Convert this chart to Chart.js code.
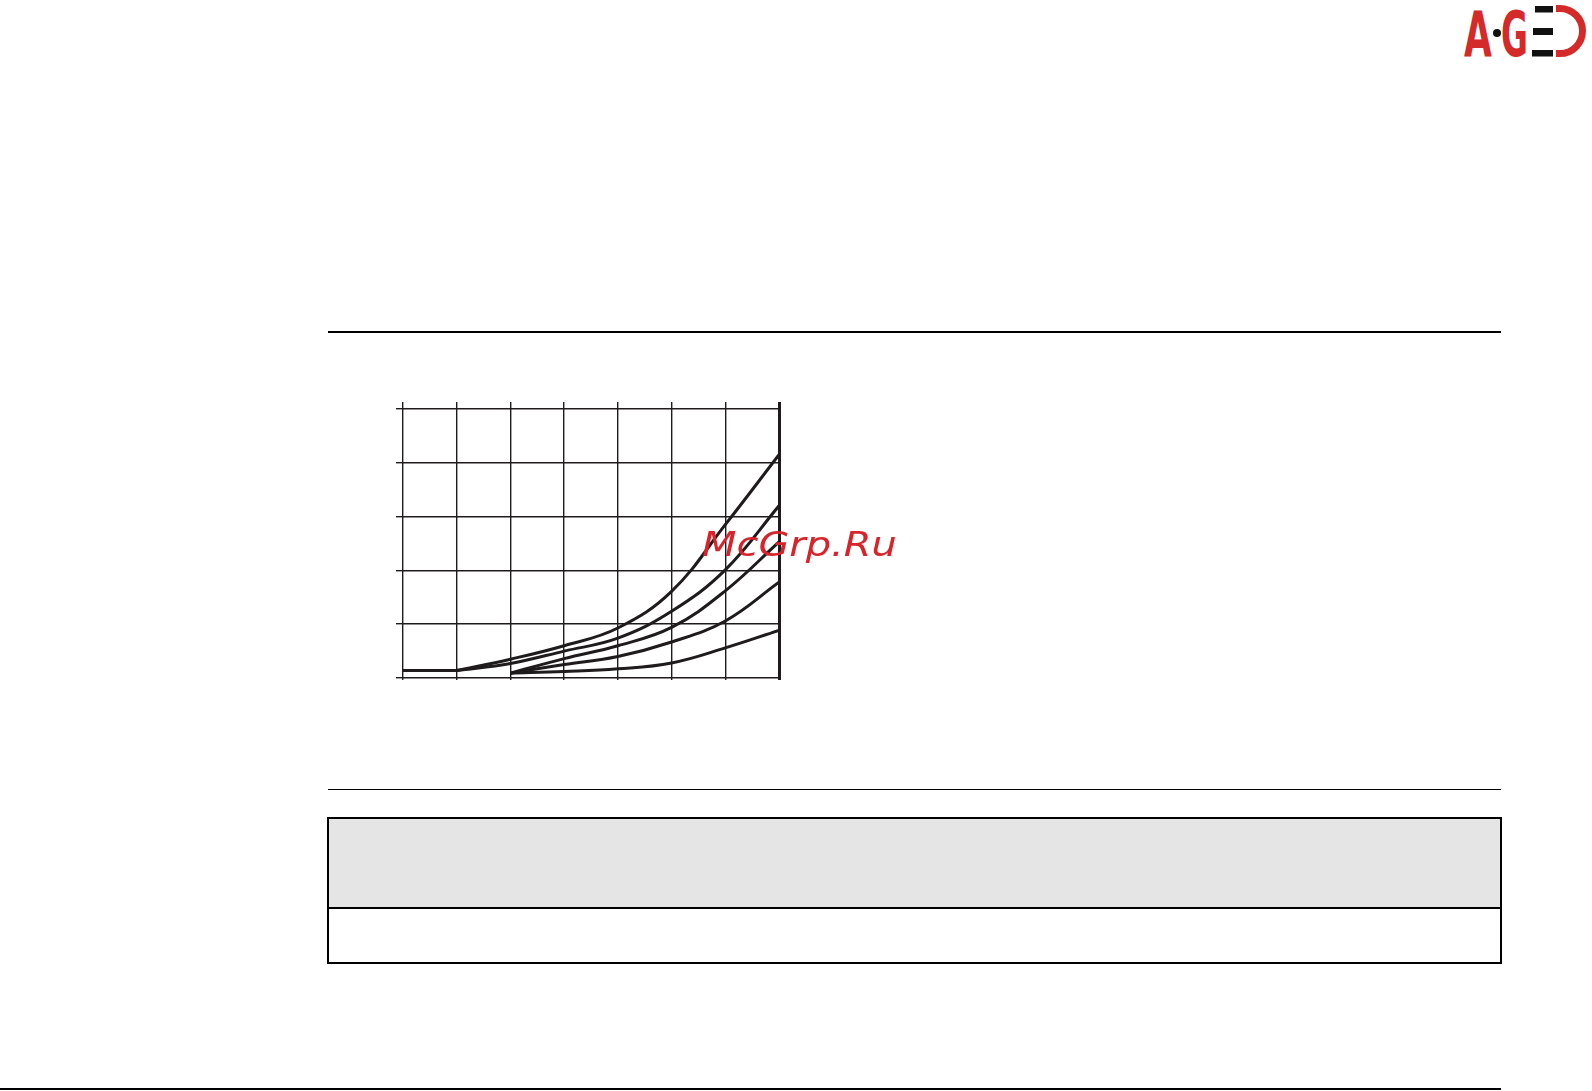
<!DOCTYPE html>
<html>
<head>
<meta charset="utf-8">
<script src="https://cdn.jsdelivr.net/npm/chart.js@4/dist/chart.umd.min.js"></script>
<style>
html,body{margin:0;padding:0;background:#fff;}
body{width:1592px;height:1091px;overflow:hidden;position:relative;font-family:"DejaVu Sans",sans-serif;}
.rule{position:absolute;background:#000;}
#chartBox{position:absolute;left:380px;top:390px;width:420px;height:300px;}
#wm{position:absolute;left:702px;top:528px;font-family:"DejaVu Sans",sans-serif;font-style:oblique;font-size:33px;line-height:33px;color:#d9232a;z-index:5;white-space:nowrap;transform:scaleX(1.21);transform-origin:left top;}
.logoTxt{position:absolute;top:4px;font-family:"DejaVu Sans",sans-serif;font-weight:bold;font-size:62px;line-height:62px;color:#d42a2a;white-space:nowrap;transform-origin:left top;}
#logoSvg{position:absolute;left:1490px;top:0;width:100px;height:62px;}
#grayBox{position:absolute;left:327px;top:817px;width:1171px;height:90px;background:#e5e5e5;border:2.5px solid #000;border-bottom:none;}
#whiteBox{position:absolute;left:327px;top:907px;width:1171px;height:53px;background:#fff;border:2.5px solid #000;}
</style>
</head>
<body>
<div class="logoTxt" style="left:1464px;transform:scaleX(0.58);">A</div>
<div class="logoTxt" style="left:1501px;transform:scaleX(0.53);">G</div>
<svg id="logoSvg" viewBox="0 0 100 62" xmlns="http://www.w3.org/2000/svg">
  <circle cx="7" cy="33" r="4" fill="#111"/>
  <rect x="45" y="6" width="18" height="6.5" fill="#111"/>
  <rect x="43" y="28" width="20" height="7" fill="#111"/>
  <rect x="42" y="50" width="21" height="6.5" fill="#111"/>
  <path d="M66 8.5 H70 A22.5 22.5 0 0 1 70 53.5 H66" fill="none" stroke="#d42a2a" stroke-width="7"/>
</svg>

<div class="rule" style="left:328px;top:331px;width:1173px;height:2px;"></div>
<div class="rule" style="left:328px;top:789px;width:1173px;height:1.3px;"></div>
<div class="rule" style="left:0px;top:1088px;width:1501px;height:2px;"></div>

<div id="grayBox"></div>
<div id="whiteBox"></div>

<div id="chartBox"><canvas id="c" width="420" height="300"></canvas></div>
<div id="wm">McGrp.Ru</div>

<script>
// ---- data ----
const xValues = [0, 1, 2, 3, 4, 5, 6, 7];
const leadIn  = [0.14, 0.14, null, null, null, null, null, null];
const curveA = [null, 0.14, 0.35, 0.60, 0.93, 1.61, 2.85, 4.15];
const curveB = [null, 0.14, 0.27, 0.50, 0.74, 1.24, 2.01, 3.20];
const curveC = [null, null, 0.09, 0.36, 0.60, 0.94, 1.62, 2.53];
const curveD = [null, null, 0.09, 0.25, 0.40, 0.67, 1.06, 1.78];
const curveE = [null, null, 0.09, 0.12, 0.17, 0.28, 0.56, 0.885];
const xTicks = [0, 1, 2, 3, 4, 5, 6, 7];
const yTicks = [0, 1, 2, 3, 4, 5];

const ink = '#1f1b1c';
function toPoints(arr) {
  return xValues.map((x, i) => ({x: x, y: arr[i]})).filter(p => p.y !== null);
}
const curves = [leadIn, curveA, curveB, curveC, curveD, curveE];
const datasets = curves.map(arr => ({
  data: toPoints(arr),
  borderColor: ink,
  borderWidth: 3,
  pointRadius: 0,
  fill: false,
  tension: 0.4
}));

new Chart(document.getElementById('c'), {
  type: 'line',
  data: {datasets: datasets},
  options: {
    responsive: false,
    animation: false,
    devicePixelRatio: 1,
    layout: {padding: {left: 16, right: 21, top: 12, bottom: 10}},
    plugins: {legend: {display: false}, tooltip: {enabled: false}},
    scales: {
      x: {
        type: 'linear', min: 0, max: 7,
        afterBuildTicks: s => { s.ticks = xTicks.map(v => ({value: v})); },
        ticks: {display: false},
        border: {display: false},
        grid: {
          color: ink,
          lineWidth: ctx => ctx.index === xTicks.length - 1 ? 3 : 1.4,
          tickLength: 2,
          drawTicks: true
        }
      },
      y: {
        type: 'linear', min: 0, max: 5.13,
        afterBuildTicks: s => { s.ticks = yTicks.map(v => ({value: v})); },
        ticks: {display: false},
        border: {display: false},
        grid: {color: ink, lineWidth: 1.4, tickLength: 7, drawTicks: true}
      }
    }
  }
});
</script>
</body>
</html>
